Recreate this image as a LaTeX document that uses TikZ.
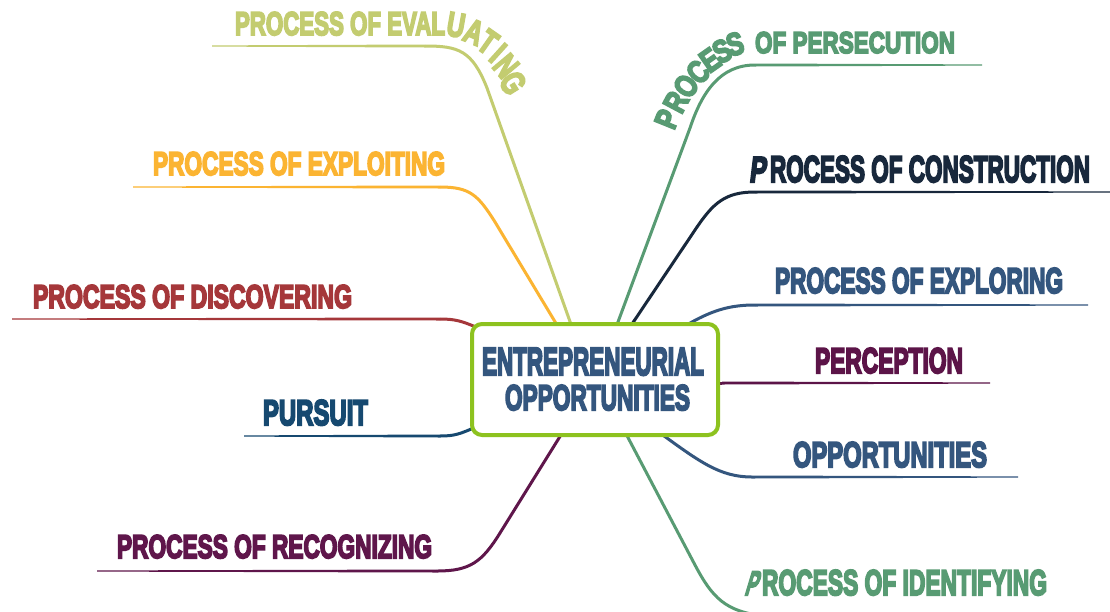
\documentclass[tikz,border=0pt]{standalone}
\usepackage{fontspec}
\usepackage{graphicx}
\newfontfamily\lf[FakeBold=6]{Liberation Sans Bold}
\newcommand\lbl[3]{\resizebox{#1pt}{#2pt}{\lf #3}}
\newcommand\ltra[1]{\scalebox{2.45}[3.4]{\lf #1}}
\newcommand\ltrb[1]{\scalebox{2.5}[3.15]{\lf #1}}
\newcommand\taper[4]{\fill[#1] (#2,#4-1.5) -- (#3,#4-0.6) -- (#3,#4+0.6) -- (#2,#4+1.5) -- cycle;}
\definecolor{ceval}{RGB}{195,204,112}
\definecolor{cexpl}{RGB}{251,180,50}
\definecolor{cdisc}{RGB}{165,55,58}
\definecolor{cpurs}{RGB}{22,73,112}
\definecolor{crecg}{RGB}{95,22,75}
\definecolor{cpers}{RGB}{88,155,115}
\definecolor{ccons}{RGB}{24,40,60}
\definecolor{cexpr}{RGB}{52,86,126}
\definecolor{cperc}{RGB}{92,20,72}
\definecolor{cbox}{RGB}{141,194,31}
\begin{document}
\begin{tikzpicture}[x=1pt,y=-1pt,
  br/.style={line width=3pt, line cap=butt},
  lb/.style={anchor=base west, inner sep=0pt, outer sep=0pt},
  lt/.style={anchor=center, inner sep=0pt, outer sep=0pt}]
\useasboundingbox (0,0) rectangle (1110,611);
\clip (0,0) rectangle (1110,611);
\fill[white] (0,0) rectangle (1110,611);
% branch points
\coordinate (ev) at (425,46);
\coordinate (ex) at (440,187);
\coordinate (di) at (440,319);
\coordinate (pu) at (440,436);
\coordinate (re) at (437,571);
\coordinate (pe) at (755,65);
\coordinate (co) at (755,192);
\coordinate (er) at (755,305);
\coordinate (pc) at (722,383);
\coordinate (op) at (752,477);
\coordinate (id) at (765,616);
% branches
\draw[br,ceval] (573,330) -- (487,88) .. controls (472,50) and (458,46) .. (ev);
\taper{ceval}{425}{212}{46}
\draw[br,cexpl] (560,330) -- (495,222) .. controls (478,195) and (470,187) .. (ex);
\taper{cexpl}{440}{133}{187}
\draw[br,cdisc] (478,328) .. controls (462,321) and (455,319) .. (di);
\taper{cdisc}{440}{12}{319}
\draw[br,cpurs] (478,426) .. controls (460,434) and (455,436) .. (pu);
\taper{cpurs}{440}{244}{436}
\draw[br,crecg] (564,430) -- (500,533) .. controls (482,562) and (470,571) .. (re);
\taper{crecg}{437}{97}{571}
\draw[br,cpers] (615,330) -- (690,128) .. controls (702,92) and (720,65) .. (pe);
\taper{cpers}{755}{982}{65}
\draw[br,ccons] (628,330) -- (695,230) .. controls (713,203) and (725,192) .. (co);
\taper{ccons}{755}{1110}{192}
\draw[br,cexpr] (685,326) .. controls (712,310) and (730,305) .. (er);
\taper{cexpr}{755}{1088}{305}
\draw[br,cperc] (715,383) -- (pc);
\taper{cperc}{722}{990}{383}
\draw[br,cexpr] (660,433) .. controls (700,462) and (720,477) .. (op);
\taper{cexpr}{752}{1018}{477}
\draw[br,cpers] (624,430) -- (695,565) .. controls (712,597) and (725,612) .. (id);
% central node
\node[draw=cbox, line width=4pt, rounded corners=10pt, fill=white,
      minimum width=246pt, minimum height=111pt, inner sep=0pt] (center) at (595,379.5) {};
\node[lb,text=cexpr] (c1) at (482,375) {\lbl{222}{27}{ENTREPRENEURIAL}};
\node[lb,text=cexpr] (c2) at (505,410) {\lbl{185}{25}{OPPORTUNITIES}};
% labels
\node[lb,text=ceval] (evl) at (235,35) {\lbl{210}{23}{PROCESS OF EVAL}};
\node[lt,text=ceval,rotate=-10] at (456,25) {\ltra{U}};
\node[lt,text=ceval,rotate=-22] at (474,32) {\ltra{A}};
\node[lt,text=ceval,rotate=-35] at (488,42) {\ltra{T}};
\node[lt,text=ceval,rotate=-42] at (498,53) {\ltra{I}};
\node[lt,text=ceval,rotate=-50] at (506,66) {\ltra{N}};
\node[lt,text=ceval,rotate=-58] at (513,83) {\ltra{G}};
\node[lb,text=cexpl] (exl) at (153,175) {\lbl{292}{23}{PROCESS OF EXPLOITING}};
\node[lb,text=cdisc] (dil) at (33,308) {\lbl{319}{23}{PROCESS OF DISCOVERING}};
\node[lb,text=cpurs] (pul) at (263,425) {\lbl{105}{25}{PURSUIT}};
\node[lb,text=crecg] (rel) at (117,558) {\lbl{315}{23}{PROCESS OF RECOGNIZING}};
\node[lb,text=cpers] (pel) at (755,53) {\lbl{200}{21}{OF PERSECUTION}};
\node[lt,text=cpers,rotate=68] at (667,119) {\ltrb{P}};
\node[lt,text=cpers,rotate=62] at (676,102) {\ltrb{R}};
\node[lt,text=cpers,rotate=55] at (686,86) {\ltrb{O}};
\node[lt,text=cpers,rotate=45] at (698,72) {\ltrb{C}};
\node[lt,text=cpers,rotate=35] at (710,60) {\ltrb{E}};
\node[lt,text=cpers,rotate=25] at (722,51) {\ltrb{S}};
\node[lt,text=cpers,rotate=15] at (735,44) {\ltrb{S}};
\node[lb,text=ccons,xslant=0.12] (cop) at (749,182) {\scalebox{2.5}[3.6]{\lf P}};
\node[lb,text=ccons] (col) at (770,182) {\lbl{320}{26}{ROCESS OF CONSTRUCTION}};
\node[lb,text=cexpr] (erl) at (775,293) {\lbl{288}{25}{PROCESS OF EXPLORING}};
\node[lb,text=cperc] (pcl) at (815,373) {\lbl{148}{25}{PERCEPTION}};
\node[lb,text=cexpr] (opl) at (793,467) {\lbl{194}{25}{OPPORTUNITIES}};
\node[lb,text=cpers,xslant=0.3] (idp) at (744,595) {\scalebox{1.8}[3.4]{\lf P}};
\node[lb,text=cpers] (idl) at (762,595) {\lbl{285}{25}{ROCESS OF IDENTIFYING}};
\end{tikzpicture}
\end{document}
